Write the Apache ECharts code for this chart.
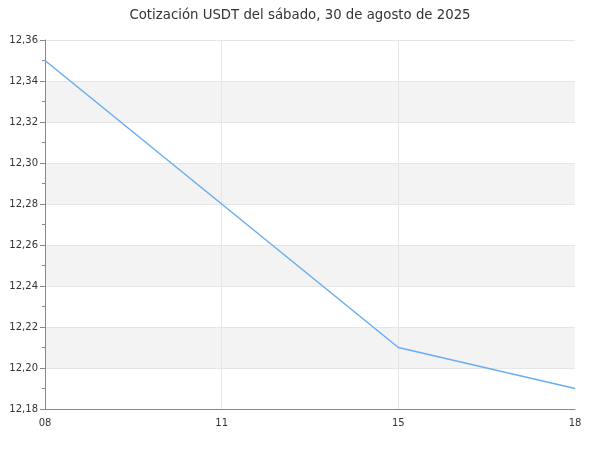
<!DOCTYPE html>
<html>
<head>
<meta charset="utf-8">
<script src="https://cdn.jsdelivr.net/npm/echarts@6/dist/echarts.min.js"></script>
<style>html,body{margin:0;padding:0;background:#fff}#c{width:600px;height:450px}</style>
</head>
<body>
<div id="c"></div>
<script>
var titleText = 'Cotización USDT del sábado, 30 de agosto de 2025';
var hours = ['08', '11', '15', '18'];
var prices = [12.35, 12.28, 12.21, 12.19];

var chart = echarts.init(document.getElementById('c'), null, {renderer: 'canvas'});
chart.setOption({
  animation: false,
  backgroundColor: '#fff',
  textStyle: {fontFamily: 'DejaVu Sans'},
  title: {
    text: titleText, left: 'center', top: 4,
    textStyle: {fontFamily: 'DejaVu Sans', fontSize: 13.3, fontWeight: 'normal', color: '#333'}
  },
  grid: {left: 45, right: 25, top: 40, bottom: 41, containLabel: false},
  xAxis: {
    type: 'category', data: hours, boundaryGap: false,
    axisLine: {lineStyle: {color: '#888'}},
    axisTick: {show: false},
    axisLabel: {color: '#333', fontSize: 10, margin: 9, fontFamily: 'DejaVu Sans'},
    splitLine: {
      show: true, lineStyle: {color: '#e6e6e6'},
      interval: function (index) { return index > 0 && index < hours.length - 1; }
    }
  },
  yAxis: {
    type: 'value', min: 12.18, max: 12.36, interval: 0.02,
    axisLine: {show: true, lineStyle: {color: '#888'}},
    axisTick: {show: true, length: 5, lineStyle: {color: '#888'}},
    minorTick: {show: true, splitNumber: 2, length: 3, lineStyle: {color: '#888'}},
    axisLabel: {
      color: '#333', fontSize: 10, margin: 7, fontFamily: 'DejaVu Sans',
      formatter: function (v) { return v.toFixed(2).replace('.', ','); }
    },
    splitLine: {show: true, lineStyle: {color: '#e6e6e6'}},
    splitArea: {show: true, areaStyle: {color: ['#ffffff', '#f3f3f3']}}
  },
  series: [{
    type: 'line', data: prices, showSymbol: false, symbol: 'none',
    lineStyle: {color: '#6aaef0', width: 1.5}
  }]
});
</script>
</body>
</html>
